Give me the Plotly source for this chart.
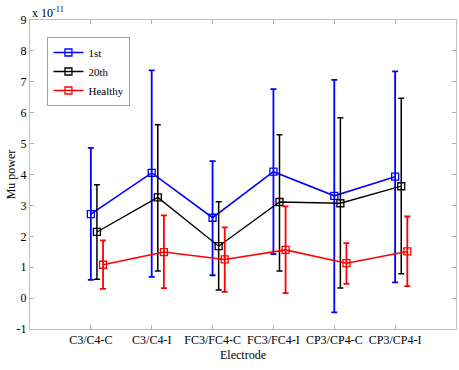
import plotly.graph_objects as go

categories = ["C3/C4-C", "C3/C4-I", "FC3/FC4-C", "FC3/FC4-I", "CP3/CP4-C", "CP3/CP4-I"]
series_names = ["1st", "20th", "Healthy"]
# values in units of 1e-11
mean_1st = [2.72, 4.05, 2.60, 4.09, 3.31, 3.93]
upper_1st = [4.86, 7.37, 4.43, 6.76, 7.06, 7.34]
lower_1st = [0.59, 0.69, 0.74, 1.42, -0.46, 0.51]
mean_20th = [2.14, 3.26, 1.68, 3.11, 3.07, 3.62]
upper_20th = [3.67, 5.61, 3.12, 5.29, 5.84, 6.47]
lower_20th = [0.61, 0.88, 0.26, 0.88, 0.33, 0.79]
mean_healthy = [1.08, 1.49, 1.25, 1.56, 1.13, 1.51]
upper_healthy = [1.87, 2.68, 2.29, 2.97, 1.78, 2.64]
lower_healthy = [0.30, 0.32, 0.20, 0.16, 0.46, 0.39]
yticks = [-1, 0, 1, 2, 3, 4, 5, 6, 7, 8, 9]

colors = ["#0000ff", "#000000", "#ff0000"]
offsets = [0.0, 0.1, 0.2]
widths = [1.6, 1.3, 1.6]

fig = go.Figure()
data = [(mean_1st, upper_1st, lower_1st), (mean_20th, upper_20th, lower_20th),
        (mean_healthy, upper_healthy, lower_healthy)]
for name, (m, u, l), c, off, w in zip(series_names, data, colors, offsets, widths):
    xs = [i + 1 + off for i in range(len(categories))]
    fig.add_trace(go.Scatter(
        x=xs, y=m, name=name, mode="lines+markers",
        line=dict(color=c, width=w),
        marker=dict(symbol="square-open", size=7, color=c, line=dict(width=1.3, color=c)),
        error_y=dict(type="data", symmetric=False,
                     array=[a - b for a, b in zip(u, m)],
                     arrayminus=[b - a for a, b in zip(l, m)],
                     color=c, thickness=w + 0.2, width=3),
    ))

axis_common = dict(showline=True, linecolor="#c0c0c0", linewidth=1, mirror="ticks",
                   ticks="inside", ticklen=4, tickcolor="#b0b0b0", showgrid=False,
                   zeroline=False, automargin=False,
                   tickfont=dict(family="Liberation Serif", size=12, color="#000"))
fig.update_xaxes(range=[0, 7], tickvals=list(range(1, 7)), ticktext=categories, **axis_common)
fig.update_yaxes(range=[-1, 9], tickvals=yticks, ticktext=[str(t) for t in yticks], **axis_common)

serif = dict(family="Liberation Serif", size=12, color="#000")
fig.add_annotation(text="x 10<sup>-11</sup>", xref="paper", yref="paper", x=0.0, y=1.0,
                   xanchor="left", yanchor="bottom", showarrow=False, yshift=-2, font=serif)
fig.add_annotation(text="Electrode", xref="paper", yref="paper", x=0.5, y=-0.085,
                   xanchor="center", yanchor="middle", showarrow=False, font=serif)
fig.add_annotation(text="Mu power", xref="paper", yref="paper", x=-0.045, y=0.5, textangle=-90,
                   xanchor="center", yanchor="middle", showarrow=False, font=serif)

fig.update_layout(
    width=459, height=370,
    margin=dict(l=30, r=3, t=20, b=41),
    plot_bgcolor="white", paper_bgcolor="white",
    font=serif,
    legend=dict(x=0.041, y=0.945, xanchor="left", yanchor="top",
                bordercolor="#a0a0a0", borderwidth=1, bgcolor="white",
                font=dict(family="Liberation Serif", size=11, color="#000"),
                tracegroupgap=0, itemwidth=30),
)
fig.write_html("out.html", config={"displayModeBar": False})

# remove the browser's default page margin so the figure sits at the top-left corner
with open("out.html", "r", encoding="utf-8") as f:
    html = f.read()
html = html.replace("<head>", "<head><style>html,body{margin:0;padding:0;}</style>", 1)
with open("out.html", "w", encoding="utf-8") as f:
    f.write(html)
